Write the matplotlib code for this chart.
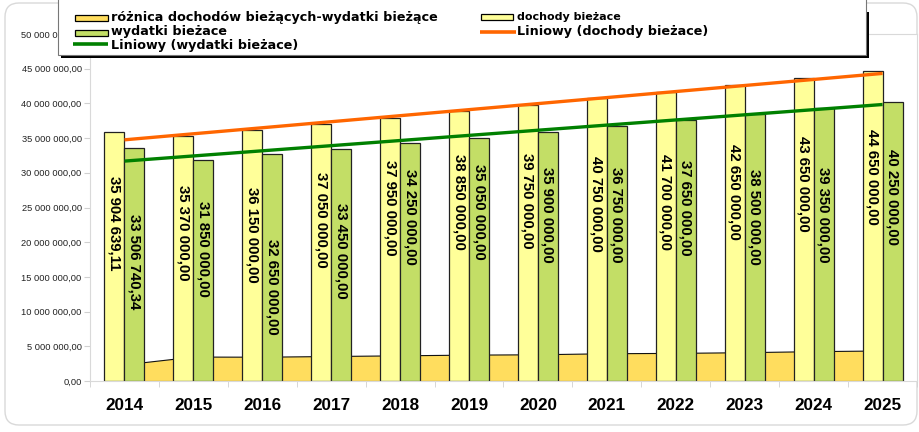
import numpy as np;
import matplotlib;
matplotlib.use('Agg');
from matplotlib import pyplot as plt;
from matplotlib.patches import Rectangle, FancyBboxPatch;
from matplotlib.lines import Line2D;

years = ['2014', '2015', '2016', '2017', '2018', '2019',
         '2020', '2021', '2022', '2023', '2024', '2025'];

dochody = [35904639.11, 35370000, 36150000, 37050000, 37950000, 38850000,
           39750000, 40750000, 41700000, 42650000, 43650000, 44650000]; # dochody bieżace

wydatki = [33506740.34, 31850000, 32650000, 33450000, 34250000, 35050000,
           35900000, 36750000, 37650000, 38500000, 39350000, 40250000]; # wydatki bieżace

roznica = [2397898.77, 3520000, 3500000, 3600000, 3700000, 3800000,
           3850000, 4000000, 4050000, 4150000, 4300000, 4400000]; # różnica

# where each rotated label begins (top of text), in axis units
label_top_d = [29.5e6, 28.3e6, 27.9e6, 30.1e6, 31.9e6, 32.7e6,
               32.9e6, 32.4e6, 32.7e6, 34.1e6, 35.3e6, 36.3e6];
label_top_w = [24.1e6, 25.9e6, 20.4e6, 25.7e6, 30.5e6, 31.2e6,
               30.9e6, 30.9e6, 31.9e6, 30.5e6, 30.8e6, 33.4e6];

C_ROZ = '#FFDD5E';
C_DOCH = '#FFFF99';
C_WYD = '#C3DE66';
C_TR_D = '#FF6600';
C_TR_W = '#008000';

plt.rcParams['font.family'] = ['Liberation Sans', 'DejaVu Sans'];

def fmt(v):
    s = '{:,.2f}'.format(v);
    return s.replace(',', ' ').replace('.', ',');

W, H = 920, 432;
def fx(px): return px / W;
def fy(py): return 1 - py / H;

fig = plt.figure(figsize=(W / 100, H / 100), dpi=100, facecolor='white');

# outer chart frame with rounded corners
r = 14;
frame = FancyBboxPatch((fx(5), fy(425)), (917 - 5) / W, (425 - 3) / H,
                       boxstyle='round,pad=0,rounding_size=%f' % (r / W),
                       mutation_aspect=W / H, transform=fig.transFigure,
                       fc='none', ec='#D9D9D9', lw=1.0, zorder=-1);
fig.add_artist(frame);

ax = fig.add_axes([fx(90), fy(381), (917 - 90) / W, (381 - 34) / H]);

x = np.arange(len(years));
bw = 0.29;

ax.fill_between(x, roznica, color=C_ROZ, edgecolor='#111111', lw=0.8, zorder=1);
ax.bar(x - bw / 2, dochody, bw, color=C_DOCH, edgecolor='#222222', lw=0.9, zorder=2);
ax.bar(x + bw / 2, wydatki, bw, color=C_WYD, edgecolor='#222222', lw=0.9, zorder=2);

# linear trend lines (Liniowy)
ends = x[[0, -1]];
for vals, col in ((dochody, C_TR_D), (wydatki, C_TR_W)):
    k, b = np.polyfit(x, vals, 1);
    ax.plot(ends, k * ends + b, color=col, lw=2.4, solid_capstyle='butt', zorder=4);

for i in range(len(years)):
    ax.text(x[i] - bw / 2, label_top_d[i], fmt(dochody[i]), rotation=270,
            ha='center', va='top', fontsize=10.8, fontweight='bold', zorder=3);
    ax.text(x[i] + bw / 2, label_top_w[i], fmt(wydatki[i]), rotation=270,
            ha='center', va='top', fontsize=10.8, fontweight='bold', zorder=3);

ax.set_xlim(-0.5, len(years) - 0.5);
ax.set_ylim(0, 50e6);
yt = np.arange(0, 50e6 + 1, 5e6);
ax.set_yticks(yt);
ax.set_yticklabels([fmt(v) for v in yt], fontsize=6.7, color='#222222');
ax.set_xticks(x);
ax.set_xticklabels(years, fontsize=12.3, fontweight='bold');
ax.set_xticks(np.arange(len(years) + 1) - 0.5, minor=True);
ax.tick_params(axis='x', which='major', length=0, pad=12);
ax.tick_params(axis='x', which='minor', length=4, color='#D0D0D0', direction='out');
ax.tick_params(axis='y', length=4, color='#D0D0D0', pad=2);
for s in ax.spines.values():
    s.set_color('#D9D9D9');
    s.set_linewidth(0.8);

# legend drawn by hand (two columns, box with shadow)
fig.add_artist(Rectangle((fx(61), fy(58)), (869 - 61) / W, (58 - 12) / H,
                         transform=fig.transFigure, fc='black', ec='none', zorder=5));
fig.add_artist(Rectangle((fx(58), fy(55)), (866 - 58) / W, (55 + 5) / H,
                         transform=fig.transFigure, fc='white', ec='#777777', lw=0.8, zorder=6));

def leg_patch(x0, x1, yc, col):
    fig.add_artist(Rectangle((fx(x0), fy(yc + 3)), (x1 - x0) / W, 6 / H,
                             transform=fig.transFigure, fc=col, ec='black', lw=0.9, zorder=7));

def leg_line(x0, x1, yc, col):
    fig.add_artist(Line2D([fx(x0), fx(x1)], [fy(yc), fy(yc)], transform=fig.transFigure,
                          color=col, lw=2.6, solid_capstyle='butt', zorder=7));

def leg_text(x0, yc, s, size):
    fig.text(fx(x0), fy(yc), s, fontsize=size, fontweight='bold', family='DejaVu Sans',
             ha='left', va='center', zorder=8);

leg_patch(75, 108, 18, C_ROZ);
leg_text(111, 18, 'różnica dochodów bieżących-wydatki bieżące', 9.2);
leg_patch(75, 108, 33, C_WYD);
leg_text(111, 32, 'wydatki bieżace', 9.2);
leg_line(73, 108, 44, C_TR_W);
leg_text(111, 46, 'Liniowy (wydatki bieżace)', 9.2);

leg_patch(481, 513, 17, C_DOCH);
leg_text(517, 17, 'dochody bieżace', 8);
leg_line(480, 516, 32, C_TR_D);
leg_text(517, 32, 'Liniowy (dochody bieżace)', 9.2);

fig.savefig('out.png', dpi=100, facecolor='white');
